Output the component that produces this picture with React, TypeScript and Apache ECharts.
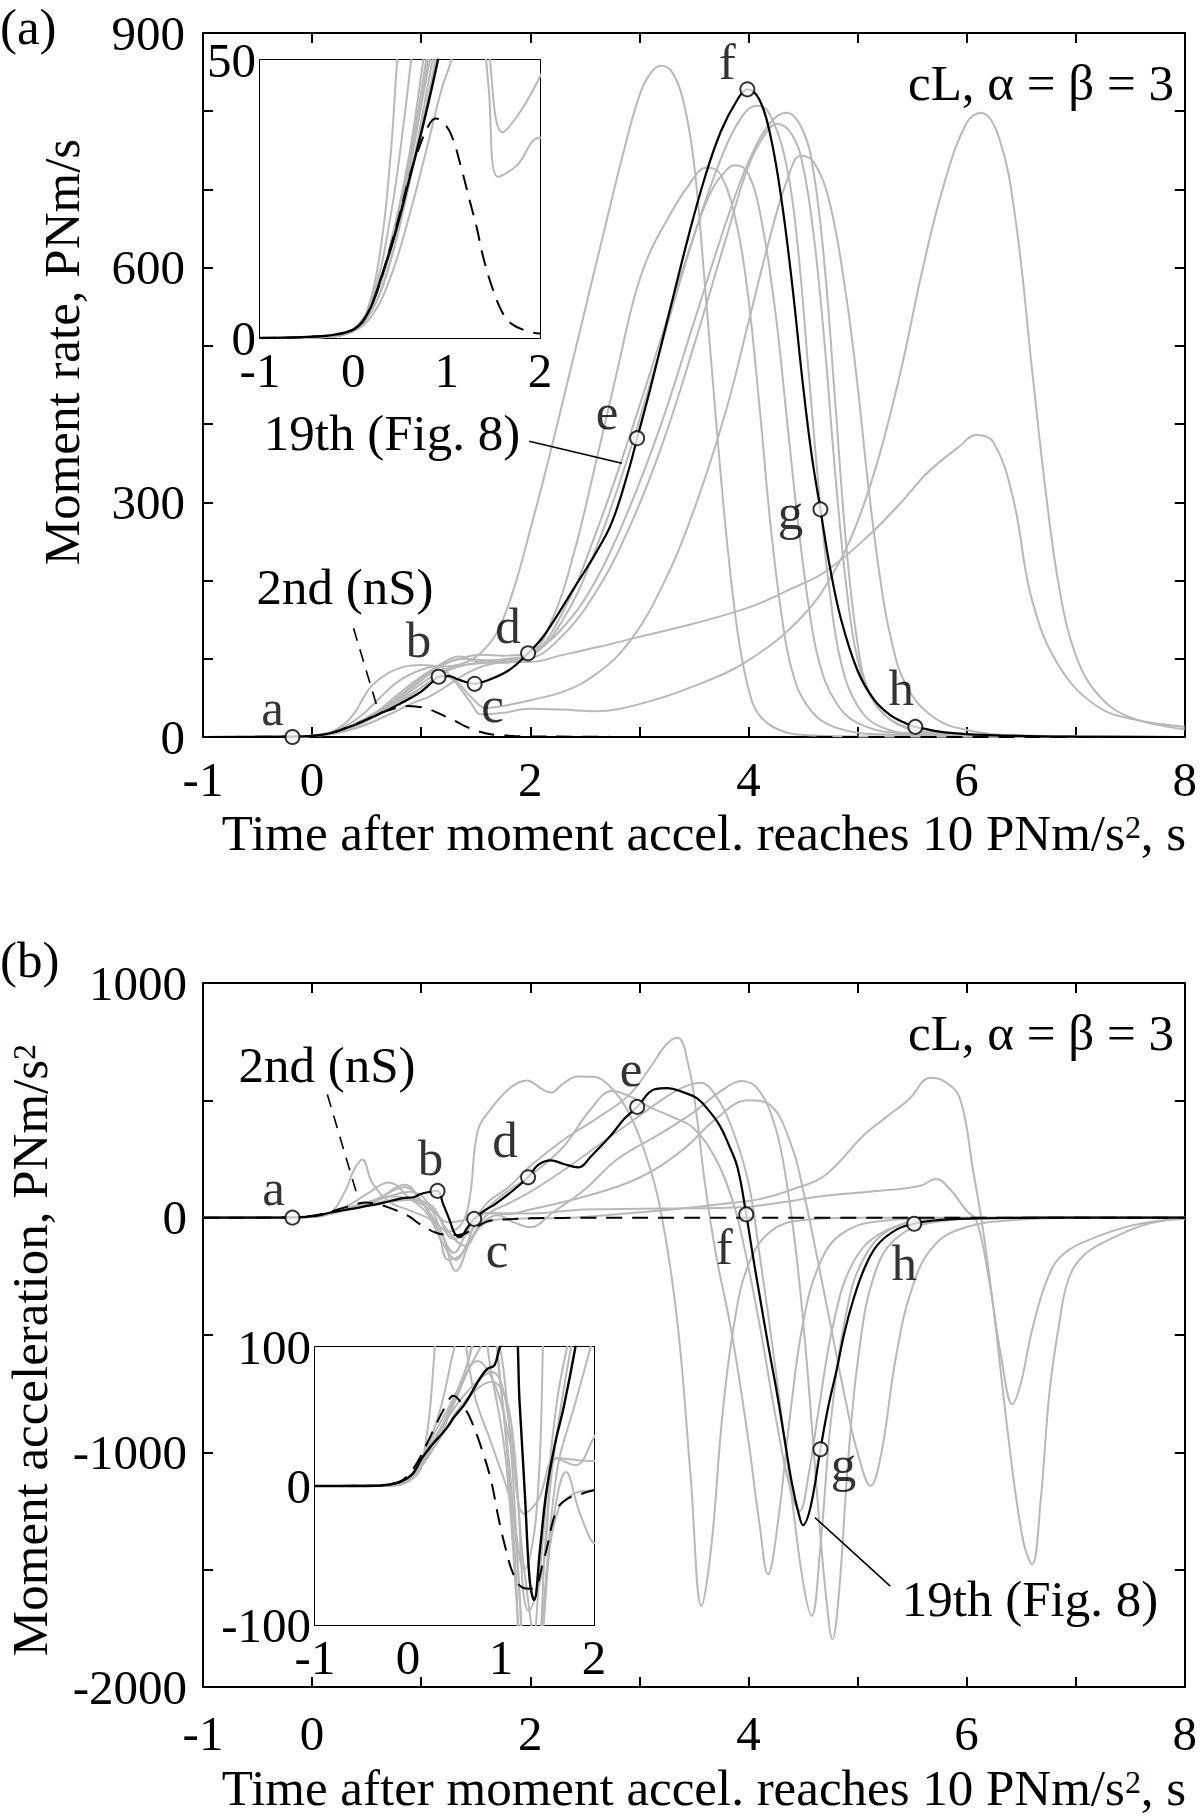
import React, { useEffect, useRef } from "react";
import * as echarts from "echarts";

type P = [number, number];

// ---------------- Panel (a): moment rate, PNm/s ----------------
const rateGray1: P[] = [[-1,0],[-0.3,0.3],[0,1.5],[0.15,5],[0.3,17],[0.4,33],[0.47,50],[0.55,66],[0.7,82],[0.85,90],[1.0,92],[1.2,90],[1.4,95],[1.55,108],[1.7,135],[1.85,190],[2.0,265],[2.15,345],[2.3,430],[2.5,545],[2.7,660],[2.85,745],[3.0,820],[3.1,848],[3.2,858],[3.3,850],[3.4,815],[3.5,735],[3.6,580],[3.7,410],[3.8,255],[3.9,135],[4.0,62],[4.1,28],[4.3,8],[4.6,2],[5.2,0.5],[8,0]];
const rateGray2: P[] = [[-1,0],[-0.3,0.2],[0,1.5],[0.2,6],[0.4,16],[0.6,30],[0.8,50],[1.0,72],[1.2,92],[1.4,100],[1.6,98],[1.8,100],[2.0,106],[2.3,140],[2.6,200],[2.9,290],[3.2,400],[3.5,530],[3.8,660],[4.0,735],[4.2,785],[4.35,798],[4.5,775],[4.6,720],[4.7,600],[4.8,420],[4.9,240],[5.0,120],[5.1,60],[5.3,22],[5.6,7],[6.2,1.5],[8,0]];
const rateGray3: P[] = [[-1,0],[-0.3,0.2],[0,1.5],[0.2,6],[0.4,17],[0.6,32],[0.78,50],[1.0,75],[1.2,95],[1.35,103],[1.5,97],[1.7,95],[2.0,103],[2.3,150],[2.6,240],[2.9,360],[3.2,500],[3.5,640],[3.75,740],[3.95,795],[4.08,807],[4.2,795],[4.35,730],[4.45,630],[4.55,470],[4.65,310],[4.75,180],[4.85,95],[5.0,40],[5.2,14],[5.6,3],[8,0]];
const rateGray4: P[] = [[-1,0],[-0.3,0.2],[0,1.4],[0.2,5],[0.4,14],[0.6,28],[0.85,50],[1.0,63],[1.2,82],[1.4,92],[1.6,95],[1.8,97],[2.0,100],[2.3,130],[2.6,185],[2.9,265],[3.2,370],[3.5,500],[3.8,640],[4.0,730],[4.15,770],[4.26,784],[4.4,770],[4.5,730],[4.6,640],[4.7,500],[4.8,330],[4.9,190],[5.0,100],[5.15,45],[5.4,15],[5.8,4],[6.5,0.5],[8,0]];
const rateGray5: P[] = [[-1,0],[-0.3,0.2],[0,1.3],[0.2,5],[0.4,14],[0.6,28],[0.88,50],[1.05,68],[1.2,78],[1.33,70],[1.45,52],[1.6,37],[1.8,41],[2.0,47],[2.3,58],[2.6,80],[2.9,120],[3.2,190],[3.5,290],[3.8,420],[4.0,530],[4.2,640],[4.35,710],[4.48,743],[4.6,735],[4.75,680],[4.9,560],[5.0,450],[5.1,320],[5.2,210],[5.3,130],[5.45,65],[5.7,25],[6.0,9],[6.5,2],[8,0]];
const rateGray6: P[] = [[-1,0],[-0.3,0.2],[0,1.5],[0.2,6],[0.4,17],[0.6,33],[0.75,50],[0.95,72],[1.15,90],[1.35,100],[1.55,105],[1.75,104],[2.0,108],[2.2,150],[2.4,235],[2.6,350],[2.8,470],[2.95,560],[3.08,614],[3.25,660],[3.45,705],[3.62,728],[3.75,718],[3.9,650],[4.0,560],[4.1,425],[4.2,275],[4.3,160],[4.4,85],[4.55,38],[4.8,12],[5.3,3],[8,0]];
const rateGray7: P[] = [[-1,0],[-0.3,0.2],[0,1.5],[0.2,6],[0.4,16],[0.6,31],[0.82,50],[1.0,68],[1.2,85],[1.4,92],[1.6,96],[1.8,99],[2.0,104],[2.3,160],[2.6,260],[2.9,380],[3.2,510],[3.45,620],[3.65,695],[3.8,725],[3.88,731],[4.0,720],[4.12,660],[4.25,540],[4.35,410],[4.45,280],[4.55,170],[4.65,95],[4.8,45],[5.0,18],[5.4,5],[8,0]];
const rateGray8: P[] = [[-1,0],[-0.3,0.3],[0,1.6],[0.2,7],[0.4,22],[0.55,40],[0.62,50],[0.8,72],[1.0,86],[1.15,90],[1.3,72],[1.45,45],[1.55,29],[1.75,31],[2.0,36],[2.3,35],[2.6,33],[3.0,42],[3.5,65],[4.0,98],[4.5,155],[4.8,215],[5.0,275],[5.2,360],[5.4,470],[5.6,600],[5.8,710],[6.0,785],[6.13,798],[6.3,765],[6.45,660],[6.6,470],[6.72,320],[6.85,190],[7.0,105],[7.2,55],[7.5,25],[8,10]];
const rateGray9: P[] = [[-1,0],[-0.3,0.2],[0,1.2],[0.2,4],[0.4,11],[0.6,22],[0.8,35],[0.95,45],[1.05,50],[1.2,62],[1.4,80],[1.6,92],[1.8,96],[2.0,96],[2.3,105],[2.62,115],[3.0,128],[3.5,145],[4.03,167],[4.4,190],[4.7,211],[5.09,256],[5.4,300],[5.65,339],[5.93,371],[6.09,386],[6.25,376],[6.43,303],[6.6,175],[6.85,90],[7.2,39],[7.55,22],[8,13]];
const rateBlack19th: P[] = [[-1,0],[-0.5,0.2],[-0.2,0.6],[0,1.5],[0.1,3],[0.2,6],[0.3,11],[0.4,16],[0.5,22],[0.6,28.5],[0.7,35],[0.8,42],[0.9,49.5],[1.0,58],[1.1,70],[1.16,77],[1.25,78],[1.35,73],[1.49,68],[1.6,72],[1.8,85],[1.98,107],[2.1,125],[2.2,145],[2.4,190],[2.6,235],[2.75,275],[2.9,340],[2.98,382],[3.1,445],[3.27,540],[3.45,640],[3.6,715],[3.75,775],[3.9,815],[3.99,828],[4.1,815],[4.2,770],[4.3,690],[4.4,580],[4.5,450],[4.58,360],[4.66,291],[4.75,215],[4.85,150],[5.0,85],[5.15,48],[5.3,28],[5.45,17],[5.53,13],[5.8,6],[6.2,2.5],[7,0.5],[8,0]];
const rateDashed2nd: P[] = [[-1,0],[-0.5,0.2],[0,1.5],[0.2,6.2],[0.4,16.5],[0.5,22.5],[0.6,29],[0.7,34],[0.8,38],[0.88,39.5],[0.95,39],[1.05,36.5],[1.15,31],[1.25,24.5],[1.32,20],[1.4,14],[1.5,8.5],[1.6,4.5],[1.7,2.5],[1.85,1.3],[2.0,0.8],[2.5,0.3],[3,0.1],[8,0]];
const rateMarkerNames = ["a","b","c","d","e","f","g","h"];
const rateMarkerT = [-0.18, 1.16, 1.49, 1.98, 2.98, 3.99, 4.66, 5.53];
const rateMarkerV = [0, 77, 68, 107, 382, 828, 291, 13];
const rateLeader19th: P[] = [[1.99, 378], [2.84, 350]];
const rateLeader2nd: P[] = [[0.38, 139], [0.61, 32]];

// ---------------- Panel (b): moment acceleration, PNm/s^2 ----------------
const accelGray1: P[] = [[-1,0],[-0.2,0.5],[0,3],[0.15,15],[0.3,110],[0.38,200],[0.46,248],[0.55,150],[0.7,70],[0.9,30],[1.1,-10],[1.25,-60],[1.38,-20],[1.45,100],[1.52,372],[1.65,470],[1.82,555],[1.97,585],[2.1,550],[2.19,533],[2.3,570],[2.43,602],[2.58,600],[2.74,555],[2.9,450],[3.05,280],[3.2,20],[3.35,-450],[3.47,-1100],[3.57,-1655],[3.66,-1400],[3.76,-850],[3.87,-450],[4.0,-200],[4.2,-60],[4.5,-10],[5,0],[8,0]];
const accelGray2: P[] = [[-1,0],[-0.2,0.5],[0,5],[0.2,25],[0.4,48],[0.6,80],[0.85,130],[1.0,70],[1.15,-30],[1.3,-150],[1.42,-60],[1.6,60],[1.8,130],[2.0,220],[2.3,330],[2.6,420],[2.9,520],[3.1,640],[3.25,740],[3.35,767],[3.45,650],[3.53,420],[3.6,150],[3.7,-150],[3.85,-500],[4.0,-950],[4.1,-1300],[4.18,-1520],[4.27,-1300],[4.38,-850],[4.5,-450],[4.65,-200],[4.85,-70],[5.2,-15],[6,0],[8,0]];
const accelGray3: P[] = [[-1,0],[-0.2,0.4],[0,4],[0.2,22],[0.5,62],[0.7,90],[0.9,110],[1.05,70],[1.2,-80],[1.32,-227],[1.45,-100],[1.6,10],[1.8,60],[2.0,110],[2.3,200],[2.6,300],[2.9,400],[3.2,500],[3.4,555],[3.56,575],[3.7,520],[3.85,380],[4.0,150],[4.1,-150],[4.25,-650],[4.4,-1200],[4.5,-1550],[4.58,-1697],[4.66,-1400],[4.76,-850],[4.9,-400],[5.05,-180],[5.3,-50],[5.7,-8],[6.5,0],[8,0]];
const accelGray4: P[] = [[-1,0],[-0.2,0.4],[0,4],[0.3,35],[0.6,65],[0.9,82],[1.1,40],[1.25,-60],[1.4,-120],[1.55,-30],[1.7,10],[1.85,-20],[2.0,-41],[2.2,20],[2.5,120],[2.8,250],[3.2,360],[3.5,450],[3.75,540],[3.94,582],[4.1,540],[4.25,380],[4.35,150],[4.45,-200],[4.55,-700],[4.65,-1300],[4.72,-1650],[4.77,-1797],[4.83,-1600],[4.92,-1000],[5.02,-550],[5.15,-250],[5.35,-90],[5.7,-20],[6.3,-3],[8,0]];
const accelGray5: P[] = [[-1,0],[-0.2,0.4],[0,4],[0.3,30],[0.6,60],[0.9,75],[1.1,50],[1.3,-90],[1.45,-60],[1.6,20],[1.8,15],[2.0,35],[2.5,90],[3.0,170],[3.4,290],[3.7,420],[4.0,500],[4.2,480],[4.4,300],[4.5,120],[4.6,-100],[4.75,-450],[4.9,-800],[5.0,-1000],[5.12,-1143],[5.22,-1000],[5.35,-600],[5.5,-300],[5.7,-120],[6.0,-40],[6.5,-8],[7,0],[8,0]];
const accelGray6: P[] = [[-1,0],[-0.2,0.5],[0,5],[0.3,40],[0.6,80],[0.85,140],[1.0,70],[1.15,-50],[1.25,-180],[1.38,-150],[1.5,-20],[1.7,80],[2.0,180],[2.3,300],[2.55,460],[2.75,540],[2.9,520],[3.1,470],[3.3,430],[3.5,380],[3.7,250],[3.85,80],[3.95,-100],[4.1,-450],[4.25,-850],[4.38,-1150],[4.47,-1250],[4.55,-1100],[4.65,-800],[4.78,-450],[4.95,-200],[5.2,-70],[5.6,-15],[6.2,0],[8,0]];
const accelGray7: P[] = [[-1,0],[-0.2,0.5],[0,4],[0.3,45],[0.5,100],[0.7,150],[0.9,80],[1.05,20],[1.2,-110],[1.32,-180],[1.45,-90],[1.6,-20],[1.8,-5],[2.0,-3],[2.4,0],[2.8,15],[3.3,35],[3.8,60],[4.11,80],[4.4,120],[4.7,180],[5.05,348],[5.24,420],[5.47,504],[5.67,596],[5.8,580],[5.94,507],[6.06,200],[6.15,-50],[6.25,-400],[6.4,-1000],[6.52,-1380],[6.6,-1477],[6.68,-1200],[6.76,-743],[6.85,-450],[6.94,-255],[7.1,-150],[7.37,-80],[7.6,-35],[7.82,-11],[8,-5]];
const accelGray8: P[] = [[-1,0],[-0.2,0.3],[0,4],[0.3,30],[0.5,60],[0.75,90],[0.95,70],[1.1,30],[1.25,-20],[1.4,-10],[1.6,20],[2.0,18],[2.5,35],[3.0,38],[3.5,40],[3.94,44],[4.3,65],[4.7,93],[5.1,110],[5.57,135],[5.72,165],[5.85,120],[6.0,30],[6.09,-11],[6.2,-250],[6.32,-600],[6.42,-795],[6.5,-700],[6.6,-480],[6.75,-250],[6.9,-150],[7.2,-80],[7.5,-35],[7.8,-12],[8,-6]];
const accelBlack19th: P[] = [[-1,0],[-0.5,0],[-0.3,0.3],[-0.1,2.5],[0,6],[0.06,9.5],[0.15,20],[0.25,29],[0.33,35],[0.42,42],[0.5,50],[0.6,58],[0.7,69],[0.77,77],[0.85,84],[0.93,87],[0.99,100],[1.08,110],[1.15,114],[1.2,60],[1.26,-10],[1.31,-69],[1.355,-82],[1.42,-45],[1.486,-5],[1.58,30],[1.675,57],[1.8,100],[1.98,172],[2.07,224],[2.19,244],[2.3,230],[2.44,214],[2.56,263],[2.74,351],[2.86,420],[2.98,472],[3.14,547],[3.26,552],[3.4,535],[3.53,508],[3.64,455],[3.74,390],[3.82,310],[3.9,214],[3.98,14],[4.04,-160],[4.11,-352],[4.18,-540],[4.26,-743],[4.33,-940],[4.4,-1135],[4.46,-1260],[4.5,-1310],[4.57,-1232],[4.66,-987],[4.73,-810],[4.81,-646],[4.88,-490],[4.96,-352],[5.06,-220],[5.18,-118],[5.36,-50],[5.52,-26],[5.7,-12],[6.0,-4],[6.5,-1],[7,0],[8,0]];
const accelDashed2nd: P[] = [[-1,0],[-0.3,0.3],[-0.1,2.9],[0,7.7],[0.1,17],[0.2,30],[0.3,44],[0.4,57],[0.49,65],[0.58,59],[0.68,47],[0.82,21],[0.9,2],[0.97,-22],[1.05,-45],[1.13,-63],[1.23,-73],[1.34,-74],[1.46,-53],[1.6,-17],[1.72,-9],[1.85,-6],[2.0,-3],[2.3,-1],[3,0],[8,0]];
const accelMarkerNames = ["a","b","c","d","e","f","g","h"];
const accelMarkerT = [-0.18, 1.15, 1.486, 1.98, 2.98, 3.98, 4.66, 5.52];
const accelMarkerV = [0, 114, -5, 172, 472, 14, -987, -26];
const accelLeader19th: P[] = [[4.61, -1278], [5.3, -1570]];
const accelLeader2nd: P[] = [[0.14, 525], [0.42, 85]];

// tick labels
const mainXLabels = [-1, 0, 2, 4, 6, 8];
const insetXLabels = [-1, 0, 1, 2];
const rateYLabels = [0, 300, 600, 900];
const rateInsetYLabels = [0, 50];
const accelYLabels = [-2000, -1000, 0, 1000];
const accelInsetYLabels = [-100, 0, 100];

// ---------------- styling (not data) ----------------
const FONT = "'Liberation Serif', 'Times New Roman', Times, serif";
const FS = 49; // tick labels
const TFS = 51; // titles and annotations
const GRAY = "#b8b8b8";
const DASH = [16, 10];
const rateLabelOffsets = [[-20,-29],[-20,-37],[18,21],[-20,-27],[-30,-26],[-20,-27],[-30,3],[-14,-39]];
const accelLabelOffsets = [[-19,-30],[-7,-33],[23,31],[-23,-37],[-6,-38],[-22,33],[23,15],[-10,39]];

const has = (arr: number[], v: number) => arr.some((a) => Math.abs(a - v) < 1e-6);

function axisCfg(gridIndex: number, min: number, max: number, interval: number, position: string, labels: number[] | null, tickLen: number, margin: number) {
  return {
    type: "value", gridIndex, min, max, interval, position,
    axisLine: { show: true, onZero: false, lineStyle: { color: "#000", width: 2 } },
    axisTick: { show: true, inside: true, length: tickLen, lineStyle: { color: "#000", width: 2 } },
    axisLabel: labels
      ? { show: true, margin, fontFamily: FONT, fontSize: FS, color: "#000", showMinLabel: true, showMaxLabel: true, lineHeight: FS,
          formatter: (v: number) => (has(labels, v) ? String(Math.round(v)) : "") }
      : { show: false },
    splitLine: { show: false },
  };
}

function lineSeries(data: P[], xi: number, yi: number, color: string, width: number, type: any = "solid", z = 2) {
  return {
    type: "line", xAxisIndex: xi, yAxisIndex: yi, data, symbol: "none", showSymbol: false,
    smooth: 0.4, clip: true, silent: true, z,
    lineStyle: { color, width, type },
  };
}
function leader(data: P[], xi: number, yi: number, dashed: boolean) {
  return {
    type: "line", xAxisIndex: xi, yAxisIndex: yi, data, symbol: "none", showSymbol: false,
    smooth: false, clip: false, silent: true, z: 4,
    lineStyle: { color: "#000", width: 1.6, type: dashed ? [13, 9] : "solid" },
  };
}
function markers(names: string[], ts: number[], vs: number[], offsets: number[][], xi: number, yi: number) {
  return {
    type: "scatter", xAxisIndex: xi, yAxisIndex: yi, symbol: "circle", symbolSize: 14, z: 10, silent: true,
    itemStyle: { color: "#fff", borderColor: "#000", borderWidth: 2 },
    label: { show: true, position: "inside", formatter: "{b}", fontFamily: FONT, fontSize: TFS, color: "#000", lineHeight: 40 },
    data: names.map((n, i) => ({ name: n, value: [ts[i], vs[i]], label: { offset: offsets[i] } })),
  };
}

const rateGrays = [rateGray1, rateGray2, rateGray3, rateGray4, rateGray5, rateGray6, rateGray7, rateGray8, rateGray9];
const accelGrays = [accelGray1, accelGray2, accelGray3, accelGray4, accelGray5, accelGray6, accelGray7, accelGray8];

function textEl(text: string, x: number, y: number, align = "center", rotation = 0, rich?: any) {
  return {
    type: "text", x, y, rotation, silent: true,
    style: { text, fontFamily: FONT, fontSize: TFS, fill: "#000", align, verticalAlign: "middle", lineHeight: 44, rich },
  };
}
const supRich = { sup: { fontSize: 32, lineHeight: 12, verticalAlign: "top", fontFamily: FONT, fill: "#000" } };

export default function App() {
  const ref = useRef<HTMLDivElement>(null);
  useEffect(() => {
    document.body.style.margin = "0";
    if (!ref.current) return;
    const chart = echarts.init(ref.current, undefined, { renderer: "svg" });
    const option: any = {
      animation: false,
      backgroundColor: "#fff",
      grid: [
        { left: 203, top: 33, width: 985, height: 704, show: false },
        { left: 260, top: 60, width: 280, height: 278, show: true, backgroundColor: "#fff", borderWidth: 0, z: 3 },
        { left: 203, top: 983, width: 985, height: 704, show: false },
        { left: 315, top: 1347, width: 279, height: 278, show: true, backgroundColor: "#fff", borderWidth: 0, z: 3 },
      ],
      xAxis: [
        axisCfg(0, -1, 8, 1, "bottom", mainXLabels, 10, 18),
        axisCfg(0, -1, 8, 1, "top", null, 10, 0),
        axisCfg(1, -1, 2, 0.5, "bottom", insetXLabels, 6, 8),
        axisCfg(1, -1, 2, 0.5, "top", null, 6, 0),
        axisCfg(2, -1, 8, 1, "bottom", mainXLabels, 10, 22),
        axisCfg(2, -1, 8, 1, "top", null, 10, 0),
        axisCfg(3, -1, 2, 0.5, "bottom", insetXLabels, 6, 8),
        axisCfg(3, -1, 2, 0.5, "top", null, 6, 0),
      ],
      yAxis: [
        axisCfg(0, 0, 900, 100, "left", rateYLabels, 10, 18),
        axisCfg(0, 0, 900, 100, "right", null, 10, 0),
        axisCfg(1, 0, 50, 5, "left", rateInsetYLabels, 6, 4),
        axisCfg(1, 0, 50, 5, "right", null, 6, 0),
        axisCfg(2, -2000, 1000, 500, "left", accelYLabels, 10, 16),
        axisCfg(2, -2000, 1000, 500, "right", null, 10, 0),
        axisCfg(3, -100, 100, 20, "left", accelInsetYLabels, 6, 4),
        axisCfg(3, -100, 100, 20, "right", null, 6, 0),
      ],
      series: [
        ...rateGrays.map((d) => lineSeries(d, 0, 0, GRAY, 2)),
        lineSeries(rateDashed2nd, 0, 0, "#000", 2, DASH, 3),
        lineSeries(rateBlack19th, 0, 0, "#000", 2.2, "solid", 4),
        leader(rateLeader19th, 0, 0, false),
        leader(rateLeader2nd, 0, 0, true),
        markers(rateMarkerNames, rateMarkerT, rateMarkerV, rateLabelOffsets, 0, 0),
        ...rateGrays.map((d) => lineSeries(d, 2, 2, GRAY, 2, "solid", 5)),
        lineSeries(rateDashed2nd, 2, 2, "#000", 2, DASH, 6),
        lineSeries(rateBlack19th, 2, 2, "#000", 2.4, "solid", 7),
        ...accelGrays.map((d) => lineSeries(d, 4, 4, GRAY, 2)),
        lineSeries(accelDashed2nd, 4, 4, "#000", 2, DASH, 3),
        lineSeries(accelBlack19th, 4, 4, "#000", 2.2, "solid", 4),
        leader(accelLeader19th, 4, 4, false),
        leader(accelLeader2nd, 4, 4, true),
        markers(accelMarkerNames, accelMarkerT, accelMarkerV, accelLabelOffsets, 4, 4),
        ...accelGrays.map((d) => lineSeries(d, 6, 6, GRAY, 2, "solid", 5)),
        lineSeries(accelDashed2nd, 6, 6, "#000", 2, DASH, 6),
        lineSeries(accelBlack19th, 6, 6, "#000", 2.4, "solid", 7),
      ],
      graphic: [
        textEl("(a)", 0, 27, "left"),
        textEl("(b)", 0, 960, "left"),
        textEl("Moment rate, PNm/s", 62, 352, "center", Math.PI / 2),
        textEl("Moment acceleration, PNm/s{sup|2}", 30, 1350, "center", Math.PI / 2, supRich),
        textEl("Time after moment accel. reaches 10 PNm/s{sup|2}, s", 704, 833, "center", 0, supRich),
        textEl("Time after moment accel. reaches 10 PNm/s{sup|2}, s", 704, 1788, "center", 0, supRich),
        textEl("cL, α = β = 3", 1174, 83, "right"),
        textEl("cL, α = β = 3", 1174, 1033, "right"),
        textEl("2nd (nS)", 345, 587, "center"),
        textEl("2nd (nS)", 327, 1065, "center"),
        textEl("19th (Fig. 8)", 392, 433, "center"),
        textEl("19th (Fig. 8)", 1030, 1599, "center"),
      ],
    };
    chart.setOption(option);
    return () => chart.dispose();
  }, []);
  return <div ref={ref} style={{ width: 1200, height: 1819 }} />;
}
